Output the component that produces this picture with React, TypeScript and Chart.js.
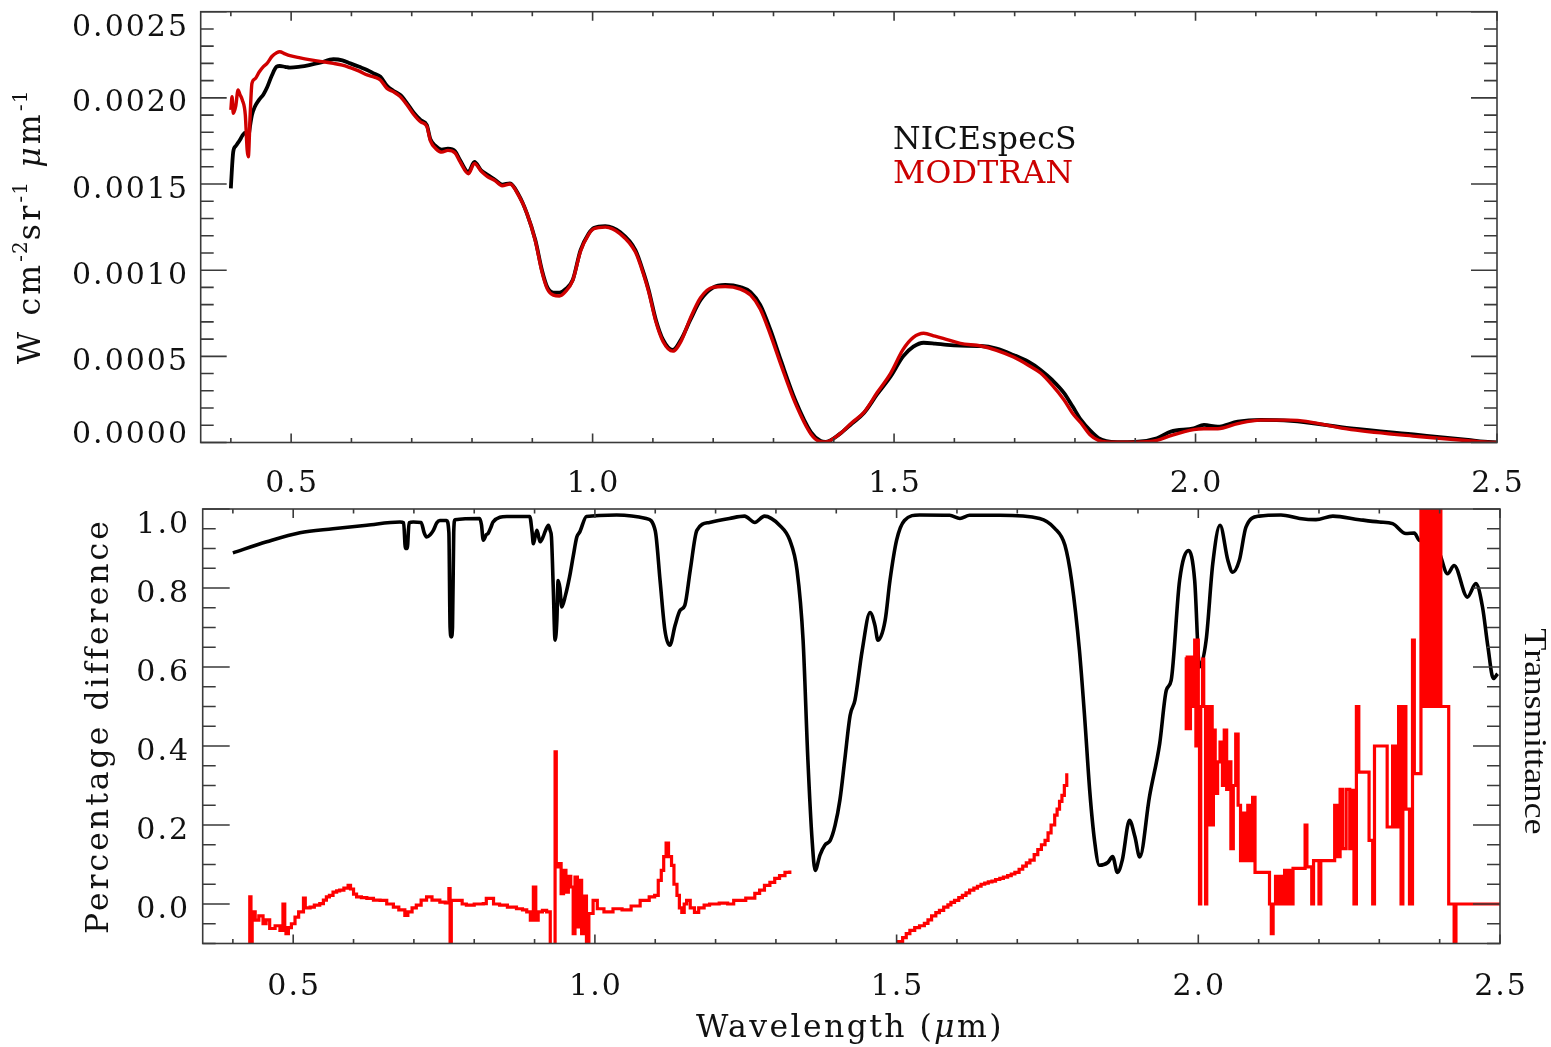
import React, { useEffect, useRef } from 'react';
import { Chart, registerables } from 'chart.js';
Chart.register(...registerables);

const SERIF = '"DejaVu Serif", "Liberation Serif", serif';
const TIMES = '"Liberation Serif", "Times New Roman", serif';

// ---------------- axes / ticks ----------------
const X_MIN = 0.35;
const X_MAX = 2.5;
const xTickValues = [0.5, 1.0, 1.5, 2.0, 2.5];
const xTickLabels = ['0.5', '1.0', '1.5', '2.0', '2.5'];
const topYTickValues = [0, 0.0005, 0.001, 0.0015, 0.002, 0.0025];
const topYTickLabels = ['0.0000', '0.0005', '0.0010', '0.0015', '0.0020', '0.0025'];
const botYTickValues = [0, 0.2, 0.4, 0.6, 0.8, 1.0];
const botYTickLabels = ['0.0', '0.2', '0.4', '0.6', '0.8', '1.0'];
const legendNames = ['NICEspecS', 'MODTRAN'];

// ---------------- top panel: radiance (W cm^-2 sr^-1 um^-1) ----------------
const topWave = [
  0.400, 0.402, 0.404, 0.408, 0.412, 0.415, 0.419, 0.424, 0.427, 0.429,
  0.432, 0.435, 0.440, 0.447, 0.454, 0.460, 0.468, 0.476, 0.481, 0.490,
  0.498, 0.515, 0.530, 0.548, 0.570, 0.585, 0.598, 0.613, 0.626, 0.638,
  0.648, 0.659, 0.670, 0.681, 0.692, 0.703, 0.715, 0.725, 0.731, 0.740,
  0.750, 0.760, 0.772, 0.780, 0.794, 0.804, 0.815, 0.825, 0.838, 0.850,
  0.863, 0.877, 0.891, 0.905, 0.916, 0.925, 0.935, 0.945, 0.955, 0.967,
  0.980, 0.993, 1.002, 1.021, 1.046, 1.071, 1.085, 1.093, 1.105, 1.117,
  1.133, 1.147, 1.162, 1.179, 1.199, 1.220, 1.245, 1.262, 1.278, 1.295,
  1.312, 1.336, 1.362, 1.378, 1.386, 1.410, 1.430, 1.450, 1.472, 1.494,
  1.515, 1.532, 1.549, 1.568, 1.588, 1.610, 1.644, 1.670, 1.698, 1.722,
  1.743, 1.763, 1.782, 1.796, 1.810, 1.825, 1.839, 1.852, 1.870, 1.900,
  1.936, 1.959, 1.997, 2.014, 2.037, 2.070, 2.108, 2.158, 2.258, 2.369,
  2.452, 2.479, 2.500,
];
const niceRad = [
  1.475e-3, 1.60e-3, 1.688e-3, 1.72e-3, 1.74e-3, 1.755e-3, 1.78e-3, 1.798e-3, 1.79e-3, 1.775e-3,
  1.84e-3, 1.90e-3, 1.95e-3, 1.99e-3, 2.02e-3, 2.06e-3, 2.13e-3, 2.181e-3, 2.185e-3, 2.18e-3,
  2.175e-3, 2.181e-3, 2.19e-3, 2.204e-3, 2.224e-3, 2.218e-3, 2.200e-3, 2.18e-3, 2.162e-3, 2.14e-3,
  2.123e-3, 2.07e-3, 2.04e-3, 2.017e-3, 1.97e-3, 1.915e-3, 1.87e-3, 1.842e-3, 1.76e-3, 1.72e-3,
  1.70e-3, 1.705e-3, 1.69e-3, 1.64e-3, 1.57e-3, 1.629e-3, 1.58e-3, 1.555e-3, 1.525e-3, 1.497e-3,
  1.504e-3, 1.44e-3, 1.33e-3, 1.175e-3, 1.00e-3, 0.90e-3, 0.870e-3, 0.87e-3, 0.89e-3, 0.943e-3,
  1.117e-3, 1.21e-3, 1.245e-3, 1.256e-3, 1.22e-3, 1.117e-3, 0.98e-3, 0.885e-3, 0.711e-3, 0.595e-3,
  0.537e-3, 0.60e-3, 0.711e-3, 0.827e-3, 0.897e-3, 0.914e-3, 0.902e-3, 0.873e-3, 0.798e-3, 0.653e-3,
  0.479e-3, 0.247e-3, 0.061e-3, 0.009e-3, 0.003e-3, 0.05e-3, 0.11e-3, 0.171e-3, 0.28e-3, 0.382e-3,
  0.50e-3, 0.556e-3, 0.579e-3, 0.574e-3, 0.566e-3, 0.562e-3, 0.560e-3, 0.545e-3, 0.508e-3, 0.47e-3,
  0.421e-3, 0.36e-3, 0.287e-3, 0.21e-3, 0.131e-3, 0.07e-3, 0.026e-3, 0.008e-3, 0.002e-3, 0.003e-3,
  0.025e-3, 0.063e-3, 0.082e-3, 0.102e-3, 0.092e-3, 0.121e-3, 0.131e-3, 0.125e-3, 0.082e-3, 0.044e-3,
  0.015e-3, 0.005e-3, 0.001e-3,
];
const modRad = [
  1.93e-3, 2.007e-3, 1.91e-3, 1.95e-3, 2.046e-3, 2.02e-3, 1.988e-3, 1.90e-3, 1.70e-3, 1.658e-3,
  1.90e-3, 2.084e-3, 2.11e-3, 2.15e-3, 2.181e-3, 2.20e-3, 2.24e-3, 2.262e-3, 2.268e-3, 2.255e-3,
  2.245e-3, 2.232e-3, 2.222e-3, 2.212e-3, 2.200e-3, 2.19e-3, 2.175e-3, 2.155e-3, 2.133e-3, 2.12e-3,
  2.104e-3, 2.055e-3, 2.035e-3, 2.007e-3, 1.96e-3, 1.905e-3, 1.86e-3, 1.835e-3, 1.75e-3, 1.705e-3,
  1.685e-3, 1.695e-3, 1.68e-3, 1.63e-3, 1.56e-3, 1.62e-3, 1.575e-3, 1.545e-3, 1.52e-3, 1.49e-3,
  1.50e-3, 1.435e-3, 1.33e-3, 1.17e-3, 0.99e-3, 0.89e-3, 0.855e-3, 0.85e-3, 0.875e-3, 0.94e-3,
  1.11e-3, 1.205e-3, 1.24e-3, 1.25e-3, 1.21e-3, 1.105e-3, 0.97e-3, 0.875e-3, 0.70e-3, 0.585e-3,
  0.53e-3, 0.59e-3, 0.72e-3, 0.84e-3, 0.90e-3, 0.905e-3, 0.89e-3, 0.855e-3, 0.775e-3, 0.625e-3,
  0.455e-3, 0.23e-3, 0.05e-3, 0.005e-3, 0.003e-3, 0.05e-3, 0.115e-3, 0.175e-3, 0.29e-3, 0.40e-3,
  0.54e-3, 0.61e-3, 0.634e-3, 0.617e-3, 0.597e-3, 0.575e-3, 0.560e-3, 0.535e-3, 0.496e-3, 0.45e-3,
  0.403e-3, 0.33e-3, 0.247e-3, 0.17e-3, 0.113e-3, 0.045e-3, 0.012e-3, 0.003e-3, 0.002e-3, 0.002e-3,
  0.012e-3, 0.04e-3, 0.075e-3, 0.08e-3, 0.08e-3, 0.11e-3, 0.13e-3, 0.13e-3, 0.075e-3, 0.035e-3,
  0.01e-3, 0.003e-3, 0.0,
];

// ---------------- bottom panel: transmittance ----------------
const transWave = [
  0.400, 0.456, 0.511, 0.566, 0.622, 0.677, 0.683, 0.686, 0.689, 0.692,
  0.699, 0.712, 0.717, 0.721, 0.727, 0.732, 0.738, 0.743, 0.754, 0.758,
  0.760, 0.762, 0.764, 0.766, 0.768, 0.809, 0.812, 0.815, 0.820, 0.823,
  0.828, 0.831, 0.854, 0.892, 0.896, 0.898, 0.901, 0.904, 0.909, 0.914,
  0.918, 0.923, 0.926, 0.928, 0.931, 0.934, 0.937, 0.939, 0.942, 0.945,
  0.951, 0.958, 0.964, 0.970, 0.975, 0.986, 1.036, 1.085, 1.100, 1.108,
  1.116, 1.124, 1.133, 1.141, 1.149, 1.158, 1.169, 1.190, 1.223, 1.248,
  1.265, 1.281, 1.306, 1.323, 1.335, 1.345, 1.353, 1.360, 1.365, 1.373,
  1.381, 1.390, 1.398, 1.406, 1.414, 1.423, 1.431, 1.443, 1.456, 1.464,
  1.469, 1.481, 1.489, 1.500, 1.513, 1.538, 1.588, 1.605, 1.621, 1.671,
  1.737, 1.762, 1.779, 1.790, 1.803, 1.812, 1.820, 1.828, 1.836, 1.850,
  1.858, 1.866, 1.874, 1.886, 1.895, 1.903, 1.919, 1.936, 1.947, 1.955,
  1.969, 1.984, 1.994, 2.002, 2.013, 2.024, 2.036, 2.049, 2.057, 2.068,
  2.079, 2.101, 2.137, 2.168, 2.195, 2.223, 2.267, 2.300, 2.322, 2.344,
  2.358, 2.366, 2.388, 2.399, 2.413, 2.424, 2.446, 2.460, 2.471, 2.480,
  2.489, 2.496,
];
const transVal = [
  0.889, 0.917, 0.940, 0.950, 0.959, 0.967, 0.965, 0.900, 0.900, 0.965,
  0.967, 0.966, 0.940, 0.929, 0.935, 0.945, 0.965, 0.971, 0.971, 0.940,
  0.700, 0.676, 0.700, 0.940, 0.973, 0.976, 0.960, 0.921, 0.935, 0.938,
  0.955, 0.967, 0.981, 0.981, 0.940, 0.912, 0.930, 0.946, 0.917, 0.929,
  0.945, 0.959, 0.945, 0.929, 0.800, 0.668, 0.720, 0.819, 0.800, 0.752,
  0.780, 0.828, 0.880, 0.929, 0.942, 0.981, 0.985, 0.976, 0.945, 0.819,
  0.693, 0.655, 0.706, 0.743, 0.756, 0.845, 0.946, 0.966, 0.976, 0.982,
  0.966, 0.982, 0.959, 0.921, 0.845, 0.668, 0.364, 0.161, 0.085, 0.124,
  0.149, 0.161, 0.199, 0.263, 0.364, 0.478, 0.516, 0.642, 0.738, 0.706,
  0.668, 0.718, 0.819, 0.921, 0.971, 0.985, 0.984, 0.976, 0.984, 0.984,
  0.976, 0.951, 0.908, 0.819, 0.642, 0.465, 0.288, 0.161, 0.098, 0.105,
  0.120, 0.080, 0.111, 0.212, 0.170, 0.119, 0.271, 0.406, 0.541, 0.566,
  0.819, 0.895, 0.819, 0.600, 0.668, 0.862, 0.959, 0.870, 0.840, 0.870,
  0.954, 0.982, 0.985, 0.976, 0.973, 0.982, 0.973, 0.967, 0.963, 0.938,
  0.939, 0.921, 0.912, 0.891, 0.836, 0.857, 0.777, 0.811, 0.752, 0.651,
  0.571, 0.583,
];

// ---------------- bottom panel: percentage difference (stepped) ----------------
const diffWave = [
  // 0.43 - 1.32
  0.427, 0.428, 0.430, 0.432, 0.437, 0.443, 0.450, 0.455, 0.461, 0.470,
  0.478, 0.483, 0.486, 0.488, 0.492, 0.497, 0.503, 0.509, 0.517, 0.520,
  0.528, 0.535, 0.544, 0.550, 0.555, 0.560, 0.566, 0.572, 0.577, 0.584,
  0.591, 0.595, 0.600, 0.605, 0.613, 0.622, 0.633, 0.644, 0.655, 0.666,
  0.675, 0.685, 0.690, 0.697, 0.704, 0.712, 0.721, 0.730, 0.743, 0.752,
  0.758, 0.760, 0.762, 0.771, 0.780, 0.787, 0.800, 0.815, 0.820, 0.826,
  0.832, 0.842, 0.855, 0.870, 0.880, 0.887, 0.893, 0.898, 0.902, 0.906,
  0.913, 0.920, 0.926, 0.934, 0.936, 0.940, 0.944, 0.948, 0.952, 0.956,
  0.960, 0.964, 0.967, 0.971, 0.975, 0.978, 0.982, 0.986, 0.990, 0.997,
  1.004, 1.015, 1.030, 1.045, 1.060, 1.075, 1.090, 1.099, 1.105, 1.110,
  1.114, 1.118, 1.122, 1.127, 1.131, 1.136, 1.140, 1.144, 1.148, 1.152,
  1.158, 1.165, 1.172, 1.181, 1.190, 1.206, 1.220, 1.230, 1.240, 1.250,
  1.265, 1.273, 1.281, 1.290, 1.298, 1.306, 1.315, 1.323,
  1.400,
  // 1.50 - 1.78
  1.500, 1.503, 1.510, 1.516, 1.522, 1.530, 1.538, 1.546, 1.552, 1.558,
  1.565, 1.571, 1.578, 1.585, 1.590, 1.596, 1.603, 1.609, 1.615, 1.621,
  1.628, 1.634, 1.640, 1.646, 1.652, 1.658, 1.664, 1.671, 1.677, 1.684,
  1.690, 1.696, 1.703, 1.709, 1.715, 1.721, 1.728, 1.734, 1.740, 1.746,
  1.751, 1.756, 1.762, 1.766, 1.770, 1.774, 1.778, 1.782,
  1.900,
  // 1.98 - 2.50
  1.979, 1.980, 1.983, 1.985, 1.987, 1.990, 1.994, 1.996, 1.998, 2.000,
  2.002, 2.004, 2.007, 2.009, 2.012, 2.014, 2.017, 2.020, 2.023, 2.025,
  2.028, 2.032, 2.036, 2.040, 2.043, 2.047, 2.051, 2.054, 2.058, 2.062,
  2.066, 2.070, 2.074, 2.078, 2.082, 2.086, 2.090, 2.094, 2.118, 2.121,
  2.124, 2.128, 2.132, 2.135, 2.139, 2.143, 2.147, 2.151, 2.154, 2.157,
  2.177, 2.180, 2.188, 2.191, 2.200, 2.203, 2.226, 2.230, 2.235, 2.239,
  2.245, 2.251, 2.253, 2.258, 2.262, 2.266, 2.283, 2.289, 2.292, 2.313,
  2.322, 2.327, 2.332, 2.336, 2.339, 2.344, 2.350, 2.355, 2.358, 2.369,
  2.372, 2.375, 2.378, 2.381, 2.384, 2.389, 2.392, 2.395, 2.398, 2.400,
  2.402, 2.413, 2.415, 2.422, 2.424, 2.427, 2.500,
];
const diffVal = [
  -0.15, 0.018, -0.15, -0.02, -0.041, -0.03, -0.05, -0.04, -0.062, -0.055,
  -0.067, 0.0, -0.06, -0.075, -0.06, -0.05, -0.033, -0.02, 0.015, -0.01,
  -0.008, -0.003, 0.001, 0.01, 0.018, 0.022, 0.03, 0.033, 0.035, 0.04,
  0.047, 0.038, 0.025, 0.018, 0.016, 0.014, 0.01, 0.009, 0.0, -0.008,
  -0.015, -0.029, -0.02, -0.01, -0.003, 0.01, 0.018, 0.01, 0.005, 0.003,
  0.039, -0.15, 0.009, 0.009, 0.0, -0.003, 0.0, 0.001, 0.014, 0.014,
  0.0, -0.003, -0.008, -0.012, -0.015, -0.02, -0.041, 0.043, -0.041, -0.02,
  -0.016, -0.02, -0.15, 0.385, 0.094, 0.102, 0.026, 0.085, 0.03, 0.07,
  0.043, -0.075, 0.068, -0.058, 0.06, -0.075, 0.02, -0.15, -0.024, 0.009,
  -0.012, -0.02, -0.012, -0.015, -0.005, 0.009, 0.018, 0.022, 0.06, 0.085,
  0.12, 0.154, 0.12, 0.098, 0.05, 0.022, -0.01, -0.021, 0.0, 0.009,
  -0.01, -0.021, -0.01, -0.003, 0.0, 0.002, 0.0, 0.009, 0.009, 0.015,
  0.027, 0.035, 0.047, 0.055, 0.065, 0.072, 0.08, 0.085,
  null,
  -0.15, -0.095, -0.085, -0.075, -0.067, -0.06, -0.055, -0.049, -0.04, -0.03,
  -0.022, -0.016, -0.008, -0.002, 0.004, 0.009, 0.016, 0.022, 0.028, 0.035,
  0.04, 0.045, 0.05, 0.053, 0.056, 0.058, 0.062, 0.065, 0.068, 0.072,
  0.076, 0.08, 0.088, 0.096, 0.104, 0.111, 0.125, 0.138, 0.15, 0.161,
  0.18, 0.2, 0.225, 0.24, 0.26, 0.275, 0.30, 0.331,
  null,
  0.625, 0.444, 0.625, 0.444, 0.625, 0.50, 0.668, 0.40, 0.668, 0.50,
  0.0, 0.50, 0.62, 0.50, 0.0, 0.50, 0.20, 0.50, 0.20, 0.44,
  0.28, 0.36, 0.41, 0.30, 0.44, 0.29, 0.36, 0.14, 0.30, 0.43,
  0.25, 0.11, 0.23, 0.11, 0.25, 0.11, 0.27, 0.08, 0.0, -0.075,
  0.0, 0.07, 0.0, 0.07, 0.0, 0.085, 0.0, 0.085, 0.0, 0.09,
  0.20, 0.094, 0.0, 0.11, 0.0, 0.11, 0.25, 0.12, 0.29, 0.14,
  0.29, 0.14, 0.288, 0.0, 0.50, 0.334, 0.161, 0.0, 0.40, 0.195,
  0.40, 0.195, 0.50, 0.0, 0.50, 0.24, 0.0, 0.668, 0.33, 1.2,
  0.5, 1.2, 0.5, 1.2, 0.5, 1.2, 0.5, 1.2, 0.5, 1.2,
  0.5, 0.5, 0.0, 0.0, -0.15, 0.0, 0.0,
];

// ---------------- drawing helpers ----------------
type AxesCfg = {
  yMin: number; yMax: number; yMinorStep: number; yMajorStep: number;
  yTickValues: number[]; yTickLabels: string[]; yLabelRight: number;
  xLabelCenterY: number;
  xMajorLen: number; xMinorLen: number; yMajorLen: number; yMinorLen: number;
  extra: (ctx: CanvasRenderingContext2D) => void;
};

type Seg = { t: string; sup: boolean; it: boolean };

function setSpacing(ctx: CanvasRenderingContext2D, px: number) {
  (ctx as any).letterSpacing = `${px}px`;
}

// draw a run of text segments (superscripts / italic) centred on the origin
function drawRun(
  ctx: CanvasRenderingContext2D, segs: Seg[], size: number, supSize: number,
  spacing: number, raise: number,
) {
  const fontOf = (s: Seg) => `${s.it ? 'italic ' : ''}${s.sup ? supSize : size}px ${SERIF}`;
  const widths: number[] = [];
  let total = 0;
  for (const s of segs) {
    ctx.font = fontOf(s);
    setSpacing(ctx, s.sup ? 1 : spacing);
    const w = ctx.measureText(s.t).width;
    widths.push(w);
    total += w;
  }
  ctx.textAlign = 'left';
  let x = -total / 2;
  segs.forEach((s, i) => {
    ctx.font = fontOf(s);
    setSpacing(ctx, s.sup ? 1 : spacing);
    ctx.fillText(s.t, x, s.sup ? -raise : 0);
    x += widths[i];
  });
}

function idlAxes(cfg: AxesCfg) {
  return {
    id: 'idlAxes',
    afterDraw(chart: any) {
      const ctx: CanvasRenderingContext2D = chart.ctx;
      const { left, right, top, bottom } = chart.chartArea;
      const xs = chart.scales.x;
      const ys = chart.scales.y;
      ctx.save();
      ctx.strokeStyle = '#3a3a3a';
      ctx.lineWidth = 1.6;
      ctx.beginPath();
      const xStep = 0.1;
      for (let i = Math.ceil(X_MIN / xStep - 1e-6); i * xStep <= X_MAX + 1e-6; i++) {
        const v = i * xStep;
        const r = v / 0.5;
        const major = Math.abs(r - Math.round(r)) < 1e-3;
        const len = major ? cfg.xMajorLen : cfg.xMinorLen;
        const px = xs.getPixelForValue(v);
        ctx.moveTo(px, bottom); ctx.lineTo(px, bottom - len);
        ctx.moveTo(px, top); ctx.lineTo(px, top + len);
      }
      const n0 = Math.ceil(cfg.yMin / cfg.yMinorStep - 1e-6);
      const n1 = Math.floor(cfg.yMax / cfg.yMinorStep + 1e-6);
      for (let i = n0; i <= n1; i++) {
        const v = i * cfg.yMinorStep;
        const r = v / cfg.yMajorStep;
        const major = Math.abs(r - Math.round(r)) < 1e-3;
        const len = major ? cfg.yMajorLen : cfg.yMinorLen;
        const py = ys.getPixelForValue(v);
        ctx.moveTo(left, py); ctx.lineTo(left + len, py);
        ctx.moveTo(right, py); ctx.lineTo(right - len, py);
      }
      ctx.stroke();
      ctx.strokeRect(left, top, right - left, bottom - top);

      ctx.fillStyle = '#111';
      ctx.font = `30px ${SERIF}`;
      setSpacing(ctx, 2);
      ctx.textBaseline = 'alphabetic';
      ctx.textAlign = 'center';
      xTickValues.forEach((v, i) => {
        const px = xs.getPixelForValue(v);
        ctx.fillText(xTickLabels[i], px + 1, cfg.xLabelCenterY + 11);
      });
      ctx.textAlign = 'right';
      cfg.yTickValues.forEach((v, i) => {
        let py = ys.getPixelForValue(v);
        if (Math.abs(py - top) < 1.5) py += 13;
        else if (Math.abs(py - bottom) < 1.5) py -= 11;
        else py += 2.5;
        ctx.fillText(cfg.yTickLabels[i], cfg.yLabelRight + 2, py + 11);
      });
      cfg.extra(ctx);
      ctx.restore();
    },
  };
}

function drawTopExtras(ctx: CanvasRenderingContext2D) {
  const segs: Seg[] = [
    { t: 'W cm', sup: false, it: false },
    { t: '-2', sup: true, it: false },
    { t: 'sr', sup: false, it: false },
    { t: '-1', sup: true, it: false },
    { t: ' ', sup: false, it: false },
    { t: '\u03bc', sup: false, it: true },
    { t: 'm', sup: false, it: false },
    { t: '-1', sup: true, it: false },
  ];
  ctx.save();
  ctx.fillStyle = '#111';
  ctx.textBaseline = 'alphabetic';
  ctx.translate(40, 227);
  ctx.rotate(-Math.PI / 2);
  drawRun(ctx, segs, 31.5, 20, 3.2, 13);
  ctx.restore();

  // legend
  ctx.save();
  ctx.font = `31.5px ${SERIF}`;
  setSpacing(ctx, 0.3);
  ctx.textAlign = 'left';
  ctx.textBaseline = 'alphabetic';
  ctx.fillStyle = '#111';
  ctx.fillText(legendNames[0], 893, 149);
  ctx.fillStyle = '#cc0000';
  ctx.fillText(legendNames[1], 893, 183);
  ctx.restore();
}

function drawBottomExtras(ctx: CanvasRenderingContext2D) {
  ctx.save();
  ctx.fillStyle = '#111';
  ctx.textBaseline = 'alphabetic';

  ctx.save();
  ctx.translate(850, 536.5);
  drawRun(ctx, [
    { t: 'Wavelength (', sup: false, it: false },
    { t: '\u03bc', sup: false, it: true },
    { t: 'm)', sup: false, it: false },
  ], 31.5, 20, 2.4, 0);
  ctx.restore();

  ctx.save();
  ctx.translate(107.5, 227.5);
  ctx.rotate(-Math.PI / 2);
  ctx.textAlign = 'center';
  ctx.font = `31.5px ${SERIF}`;
  setSpacing(ctx, 3);
  ctx.fillText('Percentage difference', 1.5, 0);
  ctx.restore();

  ctx.save();
  ctx.translate(1525, 231.5);
  ctx.rotate(Math.PI / 2);
  ctx.scale(1.19, 1);
  ctx.textAlign = 'center';
  ctx.font = `30.5px ${TIMES}`;
  setSpacing(ctx, 0);
  ctx.fillText('Transmittance', 0, 0);
  ctx.restore();
  ctx.restore();
}

function buildTop(): any {
  return {
    type: 'line',
    data: {
      datasets: [
        {
          label: legendNames[1],
          data: topWave.map((x, i) => ({ x, y: modRad[i] })),
          borderColor: 'rgb(208,0,0)',
          borderWidth: 3.4,
          pointRadius: 0,
          tension: 0.4,
          cubicInterpolationMode: 'monotone',
          fill: false,
          borderJoinStyle: 'round',
        },
        {
          label: legendNames[0],
          data: topWave.map((x, i) => ({ x, y: niceRad[i] })),
          borderColor: '#000',
          borderWidth: 3.8,
          pointRadius: 0,
          tension: 0.4,
          cubicInterpolationMode: 'monotone',
          fill: false,
          borderJoinStyle: 'round',
        },
      ],
    },
    options: {
      responsive: false,
      animation: false,
      devicePixelRatio: 1,
      events: [],
      layout: { padding: { left: 200.7, top: 11.7, right: 54, bottom: 57.5 } },
      scales: {
        x: { type: 'linear', min: X_MIN, max: X_MAX, display: false },
        y: { type: 'linear', min: 0, max: 0.0025, display: false },
      },
      plugins: { legend: { display: false }, tooltip: { enabled: false } },
    },
    plugins: [
      idlAxes({
        yMin: 0, yMax: 0.0025, yMinorStep: 0.0001, yMajorStep: 0.0005,
        yTickValues: topYTickValues, yTickLabels: topYTickLabels, yLabelRight: 187,
        xLabelCenterY: 481,
        xMajorLen: 9, xMinorLen: 4.5, yMajorLen: 26, yMinorLen: 13,
        extra: drawTopExtras,
      }),
    ],
  };
}

function buildBottom(): any {
  return {
    type: 'line',
    data: {
      datasets: [
        {
          label: 'Percentage difference',
          data: diffWave.map((x, i) => ({ x, y: diffVal[i] })),
          borderColor: '#ff0000',
          borderWidth: 3.2,
          pointRadius: 0,
          stepped: true,
          spanGaps: false,
          fill: false,
          clip: 0,
        },
        {
          label: 'Transmittance',
          data: transWave.map((x, i) => ({ x, y: transVal[i] })),
          borderColor: '#000',
          borderWidth: 3.6,
          pointRadius: 0,
          tension: 0.4,
          cubicInterpolationMode: 'monotone',
          fill: false,
          borderJoinStyle: 'round',
        },
      ],
    },
    options: {
      responsive: false,
      animation: false,
      devicePixelRatio: 1,
      events: [],
      layout: { padding: { left: 202.7, top: 9, right: 51, bottom: 103.5 } },
      scales: {
        x: { type: 'linear', min: X_MIN, max: X_MAX, display: false },
        y: { type: 'linear', min: -0.1, max: 1.0, display: false },
      },
      plugins: { legend: { display: false }, tooltip: { enabled: false } },
    },
    plugins: [
      idlAxes({
        yMin: -0.1, yMax: 1.0, yMinorStep: 0.05, yMajorStep: 0.2,
        yTickValues: botYTickValues, yTickLabels: botYTickLabels, yLabelRight: 188,
        xLabelCenterY: 484,
        xMajorLen: 9, xMinorLen: 4.5, yMajorLen: 27, yMinorLen: 13,
        extra: drawBottomExtras,
      }),
    ],
  };
}

function PanelCanvas({ top, height, build }: { top: number; height: number; build: () => any }) {
  const ref = useRef<HTMLCanvasElement>(null);
  useEffect(() => {
    const chart = new Chart(ref.current as HTMLCanvasElement, build());
    return () => chart.destroy();
  }, [build]);
  return (
    <canvas
      ref={ref}
      width={1551}
      height={height}
      style={{ position: 'absolute', left: 0, top, width: 1551, height, display: 'block' }}
    />
  );
}

export default function App() {
  return (
    <div
      style={{
        position: 'absolute', left: 0, top: 0, width: 1551, height: 1047,
        background: '#fff', overflow: 'hidden',
      }}
    >
      <PanelCanvas top={0} height={500} build={buildTop} />
      <PanelCanvas top={500} height={547} build={buildBottom} />
    </div>
  );
}
